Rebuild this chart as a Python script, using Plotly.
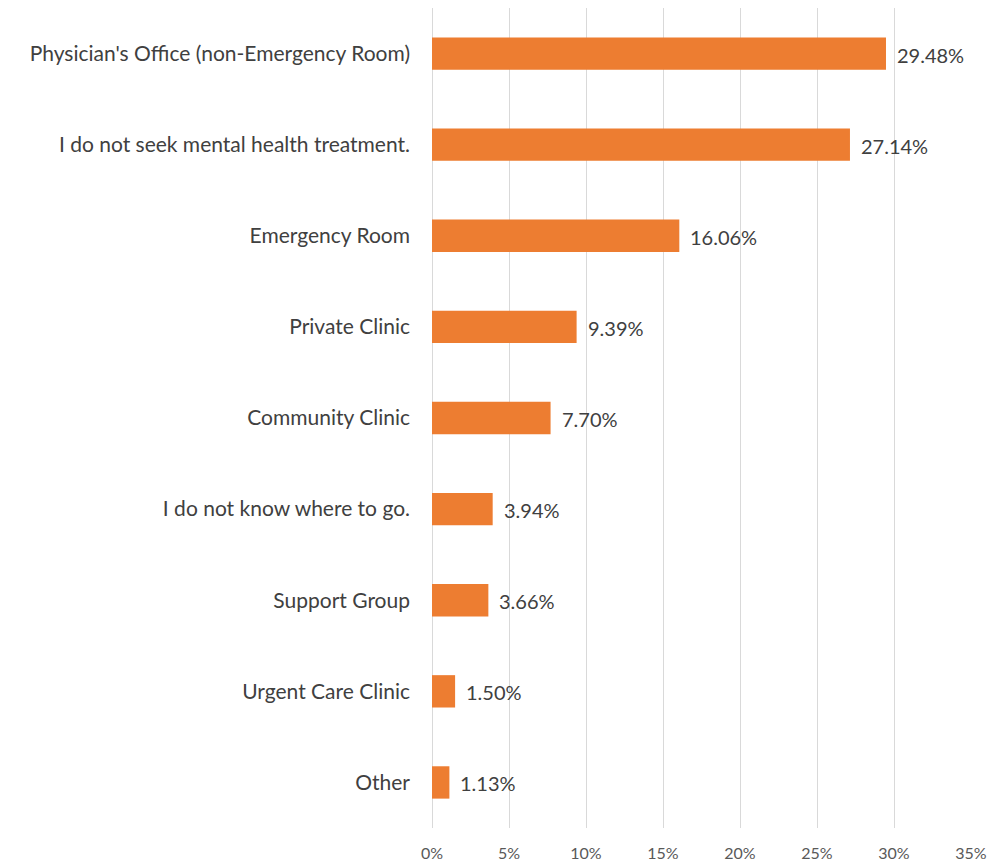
import plotly.graph_objects as go

categories = [
    "Physician's Office (non-Emergency Room)",
    "I do not seek mental health treatment.",
    "Emergency Room",
    "Private Clinic",
    "Community Clinic",
    "I do not know where to go.",
    "Support Group",
    "Urgent Care Clinic",
    "Other",
]
values = [29.48, 27.14, 16.06, 9.39, 7.70, 3.94, 3.66, 1.50, 1.13]
tick_vals = [0, 5, 10, 15, 20, 25, 30, 35]
tick_text = ["0%", "5%", "10%", "15%", "20%", "25%", "30%", "35%"]

fig = go.Figure(go.Bar(
    x=values,
    y=categories,
    orientation="h",
    marker=dict(color="#ED7D31", line=dict(width=0)),
    hoverinfo="skip",
))

for cat, v in zip(categories, values):
    fig.add_annotation(
        x=v, y=cat, xref="x", yref="y",
        text=f"{v:.2f}%", showarrow=False,
        xanchor="left", yanchor="middle", xshift=9, yshift=-1,
        font=dict(family="Lato", size=20, color="#404040"),
    )

fig.update_layout(
    width=989, height=865,
    margin=dict(l=432, r=18, t=8, b=37, autoexpand=False),
    plot_bgcolor="white", paper_bgcolor="white",
    bargap=0.645,
    showlegend=False,
    font=dict(family="Lato", size=21, color="#404040"),
)
fig.update_yaxes(autorange="reversed", showgrid=False, showline=False,
                 ticks="", ticklabelstandoff=21, automargin=False,
                 tickfont=dict(family="Lato", size=21, color="#404040"))
fig.update_xaxes(range=[0, 35], tickvals=tick_vals, ticktext=tick_text,
                 showgrid=True, gridcolor="#D9D9D9", gridwidth=1,
                 zeroline=True, zerolinecolor="#D9D9D9", zerolinewidth=1,
                 showline=False, ticks="", ticklabelstandoff=14, automargin=False,
                 tickfont=dict(family="Lato", size=16, color="#595959"))

# remove the browser's default 8px body margin so the figure fills the window
fig.write_html("out.html",
               config={"displayModeBar": False},
               post_script="document.body.style.margin='0';document.body.style.overflow='hidden';")
